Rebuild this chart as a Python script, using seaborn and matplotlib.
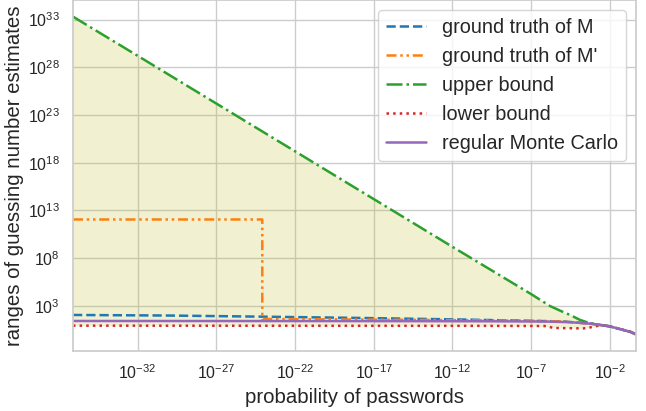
import numpy as np
import matplotlib
matplotlib.use("Agg")
import matplotlib.pyplot as plt
import matplotlib.ticker as mticker
import seaborn as sns

# log10(probability), log10(guess number)
upper_logp = [-36.11, -32, -27, -22, -17, -12, -7, -5.8, -5.0, -4.5, -3.9, -3.25, -2.0, -1.2, -0.7, -0.35]
upper_logg = [33.3, 29.2, 24.2, 19.2, 14.2, 9.2, 4.25, 3.0, 2.4, 2.05, 1.55, 1.19, 0.87, 0.5, 0.3, 0.05]

mc_logp = [-36.11, -20, -10, -6, -4.5, -3.25, -2.0, -1.2, -0.7, -0.35]
mc_logg = [1.43, 1.42, 1.40, 1.37, 1.30, 1.15, 0.87, 0.52, 0.30, 0.05]

gtM_logp = [-36.11, -30, -24, -18, -12, -8, -5, -3.25, -2.0, -1.2, -0.7, -0.35]
gtM_logg = [2.06, 2.0, 1.88, 1.75, 1.60, 1.48, 1.38, 1.17, 0.87, 0.52, 0.30, 0.05]

gtM2_logp = [-36.11, -24.08, -24.08, -18, -12, -7, -5, -3.25, -2.0, -1.2, -0.7, -0.35]
gtM2_logg = [12.06, 12.06, 1.64, 1.58, 1.52, 1.45, 1.38, 1.16, 0.87, 0.52, 0.30, 0.05]

lower_logp = [-36.11, -10, -6, -5.6, -3.7, -3.4, -2.6, -2.0, -1.2, -0.7, -0.35]
lower_logg = [0.94, 0.92, 0.90, 0.70, 0.65, 0.70, 0.98, 0.87, 0.52, 0.30, 0.05]

labels = ["ground truth of M", "ground truth of M'", "upper bound", "lower bound", "regular Monte Carlo"]
xtick_exps = [-32, -27, -22, -17, -12, -7, -2]
ytick_exps = [3, 8, 13, 18, 23, 28, 33]

sns.set_theme(style="whitegrid")
plt.rcParams['font.family'] = ['Liberation Sans', 'DejaVu Sans']

fig, ax = plt.subplots(figsize=(6.46, 4.11), dpi=100)
fig.subplots_adjust(left=0.113, right=0.984, bottom=0.147, top=0.999)

pal = sns.color_palette("tab10")

def pw(a):
    return 10.0 ** np.asarray(a, dtype=float)

# shaded region between lower and upper bound
up_x = pw(upper_logp)
low_on_up = np.interp(upper_logp, lower_logp, lower_logg)
ax.fill_between(up_x, pw(low_on_up), pw(upper_logg), color=pal[8], alpha=0.2, linewidth=0)

series = [
    (gtM_logp, gtM_logg, pal[0], '--'),
    (gtM2_logp, gtM2_logg, pal[1], (0, (4, 1.5, 1, 1.5, 1, 1.5))),
    (upper_logp, upper_logg, pal[2], '-.'),
    (lower_logp, lower_logg, pal[3], ':'),
    (mc_logp, mc_logg, pal[4], '-'),
]
for (xs, ys, c, ls), lab in zip(series, labels):
    sns.lineplot(x=pw(xs), y=pw(ys), ax=ax, color=c, linestyle=ls, linewidth=1.8,
                 label=lab, estimator=None, sort=False)

ax.set_xscale('log')
ax.set_yscale('log')
ax.set_xlim(10 ** -36.11, 10 ** -0.35)
ax.set_ylim(10 ** -1.67, 10 ** 35.0)
ax.xaxis.set_major_locator(mticker.FixedLocator([10.0 ** e for e in xtick_exps]))
ax.yaxis.set_major_locator(mticker.FixedLocator([10.0 ** e for e in ytick_exps]))
ax.xaxis.set_minor_locator(mticker.NullLocator())
ax.yaxis.set_minor_locator(mticker.NullLocator())
fmt = mticker.FuncFormatter(lambda v, p: r'$\mathdefault{10^{%d}}$' % round(np.log10(v)))
ax.xaxis.set_major_formatter(fmt)
ax.yaxis.set_major_formatter(fmt)
ax.tick_params(labelsize=11.5)

ax.set_xlabel("probability of passwords", fontsize=14.7)
ax.set_ylabel("ranges of guessing number estimates", fontsize=14.7, labelpad=3)
ax.legend(loc='upper right', fontsize=14.3)

fig.savefig("out.png", dpi=100)
